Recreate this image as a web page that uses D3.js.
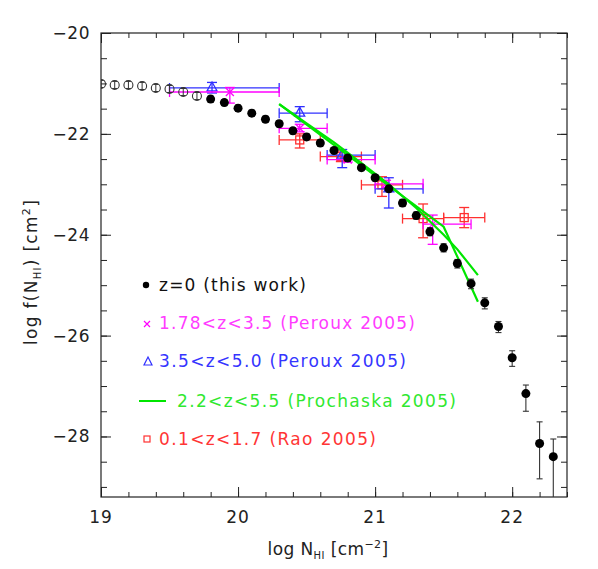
<!DOCTYPE html>
<html><head><meta charset="utf-8">
<script src="https://cdn.jsdelivr.net/npm/d3@7"></script>
<style>
body{margin:0;background:#fff;}
svg{display:block;}
text{font-family:"DejaVu Sans",sans-serif;}
</style></head>
<body><div id="chart"></div>
<script>
// ---------- data ----------
const openN = [19.0,19.1,19.2,19.3,19.4,19.5,19.6,19.7];
const openF = [-21.01,-21.03,-21.03,-21.05,-21.09,-21.11,-21.17,-21.25];
const openErr = [0.07,0.07,0.07,0.07,0.07,0.07,0.07,0.07];

const filledN = [19.8,19.9,20.0,20.1,20.2,20.3,20.4,20.5,20.6,20.7,20.8,20.9,21.0,21.1,21.2,21.3,21.4,21.5,21.6,21.7,21.8,21.9,22.0,22.1,22.2,22.3];
const filledF = [-21.31,-21.38,-21.49,-21.59,-21.71,-21.80,-21.94,-22.06,-22.18,-22.33,-22.48,-22.67,-22.87,-23.09,-23.37,-23.62,-23.94,-24.26,-24.57,-24.97,-25.35,-25.82,-26.44,-27.15,-28.14,-28.40];
const filledUp = [0.06,0.06,0.06,0.06,0.06,0.06,0.06,0.06,0.06,0.06,0.06,0.06,0.06,0.06,0.07,0.07,0.08,0.08,0.08,0.09,0.10,0.10,0.14,0.17,0.43,0.35];
const filledDn = [0.06,0.06,0.06,0.06,0.06,0.06,0.06,0.06,0.06,0.06,0.06,0.06,0.06,0.06,0.07,0.07,0.08,0.08,0.09,0.10,0.12,0.12,0.17,0.35,0.70,1.50];

const perLoN = [19.94,20.45,20.80,21.08,21.42];
const perLoF = [-21.17,-21.89,-22.51,-22.99,-23.79];
const perLoXlo = [19.5,20.3,20.65,21.0,21.35];
const perLoXhi = [20.3,20.65,21.0,21.35,21.7];
const perLoUp = [0.09,0.08,0.05,0.07,0.18];
const perLoDn = [0.22,0.07,0.05,0.07,0.40];

const perHiN = [19.81,20.45,20.76,21.10];
const perHiF = [-21.09,-21.59,-22.42,-23.09];
const perHiXlo = [19.5,20.3,20.65,21.0];
const perHiXhi = [20.3,20.65,21.0,21.35];
const perHiUp = [0.11,0.13,0.11,0.22];
const perHiDn = [0.10,0.17,0.25,0.38];

const raoN = [20.45,20.75,21.05,21.35,21.65];
const raoF = [-22.12,-22.45,-23.01,-23.68,-23.66];
const raoXlo = [20.3,20.6,20.9,21.2,21.5];
const raoXhi = [20.6,20.9,21.2,21.5,21.8];
const raoUp = [0.12,0.11,0.16,0.29,0.20];
const raoDn = [0.16,0.10,0.23,0.38,0.20];

const gammaN = [20.3,20.5,20.7,20.9,21.1,21.3,21.5,21.6,21.75];
const gammaF = [-21.41,-21.79,-22.17,-22.58,-23.00,-23.47,-24.00,-24.29,-24.80];
const dplN = [20.3,21.5,21.75];
const dplF = [-21.41,-23.84,-25.33];

const xTicks = [19,20,21,22];
const yTicks = [-20,-22,-24,-26,-28];

const legendLabels = ["z=0 (this work)","1.78<z<3.5 (Peroux 2005)","3.5<z<5.0 (Peroux 2005)","2.2<z<5.5 (Prochaska 2005)","0.1<z<1.7 (Rao 2005)"];
const legendColors = ["#111","#ff3cff","#3535ff","#30e830","#ff3535"];

// ---------- layout ----------
const W = 598, H = 569;
const L = 101, R = 567, T = 33, B = 497;
const cMag = "#ff00ff", cBlue = "#3030ff", cGreen = "#00e600", cRed = "#ff3030";

const svg = d3.select("#chart").append("svg").attr("width", W).attr("height", H);
const x = d3.scaleLinear().domain([19, 22.4]).range([L, R]);
const y = d3.scaleLinear().domain([-29.2, -20]).range([B, T]);

svg.append("defs").append("clipPath").attr("id","clip")
  .append("rect").attr("x",L).attr("y",T).attr("width",R-L).attr("height",B-T);

// ---------- axes ----------
const axC = "#222";
function styleAxis(g){ g.select(".domain").remove(); g.selectAll("line").attr("stroke",axC).attr("stroke-width",1); }
const xMinor = d3.range(19, 22.41, 0.2).map(v=>+v.toFixed(2));
const yMinor = d3.range(-29, -19.99, 0.5).map(v=>+v.toFixed(2));

svg.append("g").attr("transform",`translate(0,${B})`).call(d3.axisTop(x).tickValues(xMinor).tickSize(5).tickFormat("")).call(styleAxis);
svg.append("g").attr("transform",`translate(0,${B})`).call(d3.axisTop(x).tickValues(xTicks).tickSize(10).tickFormat("")).call(styleAxis);
svg.append("g").attr("transform",`translate(0,${T})`).call(d3.axisBottom(x).tickValues(xMinor).tickSize(5).tickFormat("")).call(styleAxis);
svg.append("g").attr("transform",`translate(0,${T})`).call(d3.axisBottom(x).tickValues(xTicks).tickSize(10).tickFormat("")).call(styleAxis);
svg.append("g").attr("transform",`translate(${L},0)`).call(d3.axisRight(y).tickValues(yMinor).tickSize(6).tickFormat("")).call(styleAxis);
svg.append("g").attr("transform",`translate(${L},0)`).call(d3.axisRight(y).tickValues(yTicks).tickSize(10).tickFormat("")).call(styleAxis);
svg.append("g").attr("transform",`translate(${R},0)`).call(d3.axisLeft(y).tickValues(yMinor).tickSize(6).tickFormat("")).call(styleAxis);
svg.append("g").attr("transform",`translate(${R},0)`).call(d3.axisLeft(y).tickValues(yTicks).tickSize(10).tickFormat("")).call(styleAxis);

svg.append("rect").attr("x",L).attr("y",T).attr("width",R-L).attr("height",B-T)
  .attr("fill","none").attr("stroke",axC).attr("stroke-width",1.2);

// tick labels
svg.append("g").selectAll("text").data(xTicks).join("text")
  .attr("x",d=>x(d)).attr("y",B+26).attr("text-anchor","middle")
  .attr("font-size",17).attr("fill",axC).attr("letter-spacing",1).text(d=>d);
svg.append("g").selectAll("text").data(yTicks).join("text")
  .attr("x",L-11).attr("y",d=>y(d)+6).attr("text-anchor","end")
  .attr("font-size",17).attr("fill",axC).attr("letter-spacing",0.5).text(d=>"\u2212"+Math.abs(d));

// axis titles
const xt = svg.append("text").attr("x",328).attr("y",555).attr("text-anchor","middle").attr("font-size",17).attr("letter-spacing",0.4).attr("fill",axC);
xt.append("tspan").text("log  N");
xt.append("tspan").attr("font-size",10).attr("dy",4).text("HI");
xt.append("tspan").attr("dy",-4).text("  [cm");
xt.append("tspan").attr("font-size",11).attr("dy",-7).text("\u22122");
xt.append("tspan").attr("dy",7).text("]");

const yt = svg.append("text").attr("transform","translate(37,272) rotate(-90)").attr("text-anchor","middle").attr("font-size",17).attr("letter-spacing",1.3).attr("fill",axC);
yt.append("tspan").text("log  f(N");
yt.append("tspan").attr("font-size",10).attr("dy",4).text("HI");
yt.append("tspan").attr("dy",-4).text(")  [cm");
yt.append("tspan").attr("font-size",11).attr("dy",-7).text("2");
yt.append("tspan").attr("dy",7).text("]");

const plot = svg.append("g").attr("clip-path","url(#clip)");

// ---------- helper for error bars ----------
function vbar(g, cx, y1, y2, cap, color, w){
  g.append("line").attr("x1",cx).attr("x2",cx).attr("y1",y1).attr("y2",y2).attr("stroke",color).attr("stroke-width",w);
  g.append("line").attr("x1",cx-cap).attr("x2",cx+cap).attr("y1",y1).attr("y2",y1).attr("stroke",color).attr("stroke-width",w);
  g.append("line").attr("x1",cx-cap).attr("x2",cx+cap).attr("y1",y2).attr("y2",y2).attr("stroke",color).attr("stroke-width",w);
}
function hbar(g, cy, x1, x2, cap, color, w){
  g.append("line").attr("x1",x1).attr("x2",x2).attr("y1",cy).attr("y2",cy).attr("stroke",color).attr("stroke-width",w);
  g.append("line").attr("x1",x1).attr("x2",x1).attr("y1",cy-cap).attr("y2",cy+cap).attr("stroke",color).attr("stroke-width",w);
  g.append("line").attr("x1",x2).attr("x2",x2).attr("y1",cy-cap).attr("y2",cy+cap).attr("stroke",color).attr("stroke-width",w);
}

// ---------- Rao (red squares) ----------
const gRao = plot.append("g");
raoN.forEach((n,i)=>{
  hbar(gRao, y(raoF[i]), x(raoXlo[i]), x(raoXhi[i]), 5, cRed, 1.3);
  vbar(gRao, x(n), y(raoF[i]+raoUp[i]), y(raoF[i]-raoDn[i]), 5, cRed, 1.3);
  gRao.append("rect").attr("x",x(n)-4).attr("y",y(raoF[i])-4).attr("width",8).attr("height",8)
    .attr("fill","none").attr("stroke",cRed).attr("stroke-width",1.3);
});

// ---------- Peroux high z (blue triangles) ----------
const gHi = plot.append("g");
perHiN.forEach((n,i)=>{
  hbar(gHi, y(perHiF[i]), x(perHiXlo[i]), x(perHiXhi[i]), 5, cBlue, 1.3);
  vbar(gHi, x(n), y(perHiF[i]+perHiUp[i]), y(perHiF[i]-perHiDn[i]), 5, cBlue, 1.3);
  const cx = x(n), cy = y(perHiF[i]);
  gHi.append("path").attr("d",`M${cx},${cy-6}L${cx+5},${cy+3}L${cx-5},${cy+3}Z`)
    .attr("fill","none").attr("stroke",cBlue).attr("stroke-width",1.3);
});

// ---------- Peroux low z (magenta crosses) ----------
const gLo = plot.append("g");
perLoN.forEach((n,i)=>{
  hbar(gLo, y(perLoF[i]), x(perLoXlo[i]), x(perLoXhi[i]), 5, cMag, 1.3);
  vbar(gLo, x(n), y(perLoF[i]+perLoUp[i]), y(perLoF[i]-perLoDn[i]), 5, cMag, 1.3);
  const cx = x(n), cy = y(perLoF[i]);
  gLo.append("path").attr("d",`M${cx-4},${cy-4}L${cx+4},${cy+4}M${cx-4},${cy+4}L${cx+4},${cy-4}`)
    .attr("stroke",cMag).attr("stroke-width",1.3);
});

// ---------- Prochaska (green lines) ----------
const line = d3.line().x(d=>x(d[0])).y(d=>y(d[1]));
plot.append("path").attr("d",line(gammaN.map((n,i)=>[n,gammaF[i]])))
  .attr("fill","none").attr("stroke",cGreen).attr("stroke-width",2.2);
plot.append("path").attr("d",line(dplN.map((n,i)=>[n,dplF[i]])))
  .attr("fill","none").attr("stroke",cGreen).attr("stroke-width",2.2);

// ---------- this work: open circles ----------
const gOpen = plot.append("g");
openN.forEach((n,i)=>{
  vbar(gOpen, x(n), y(openF[i]+openErr[i]), y(openF[i]-openErr[i]), 2.5, "#333", 1);
  gOpen.append("circle").attr("cx",x(n)).attr("cy",y(openF[i])).attr("r",4.5)
    .attr("fill","none").attr("stroke","#333").attr("stroke-width",1.1);
});

// ---------- this work: filled circles ----------
const gFill = plot.append("g");
filledN.forEach((n,i)=>{
  vbar(gFill, x(n), y(filledF[i]+filledUp[i]), y(filledF[i]-filledDn[i]), 3, "#333", 1.1);
  gFill.append("circle").attr("cx",x(n)).attr("cy",y(filledF[i])).attr("r",4.5).attr("fill","#000");
});

// ---------- legend ----------
const legY = [285,323,361,401,439];
const legW = [147,256,247,279,217];
const lg = svg.append("g");
legendLabels.forEach((t,i)=>{
  const sx = i===3 ? 177 : 159;
  lg.append("text").attr("x",sx).attr("y",legY[i]+6).attr("font-size",17)
    .attr("fill",legendColors[i]).attr("textLength",legW[i]).attr("lengthAdjust","spacing").text(t);
});
lg.append("circle").attr("cx",146).attr("cy",legY[0]).attr("r",3.2).attr("fill","#000");
lg.append("path").attr("d",`M144,321L150,327M144,327L150,321`).attr("stroke",cMag).attr("stroke-width",1.2);
lg.append("path").attr("d",`M148,357L152,365L144,365Z`).attr("fill","none").attr("stroke",cBlue).attr("stroke-width",1.2);
lg.append("line").attr("x1",139).attr("x2",166).attr("y1",401).attr("y2",401).attr("stroke",cGreen).attr("stroke-width",2);
lg.append("rect").attr("x",144).attr("y",436).attr("width",6).attr("height",6).attr("fill","none").attr("stroke",cRed).attr("stroke-width",1.2);
</script></body></html>
